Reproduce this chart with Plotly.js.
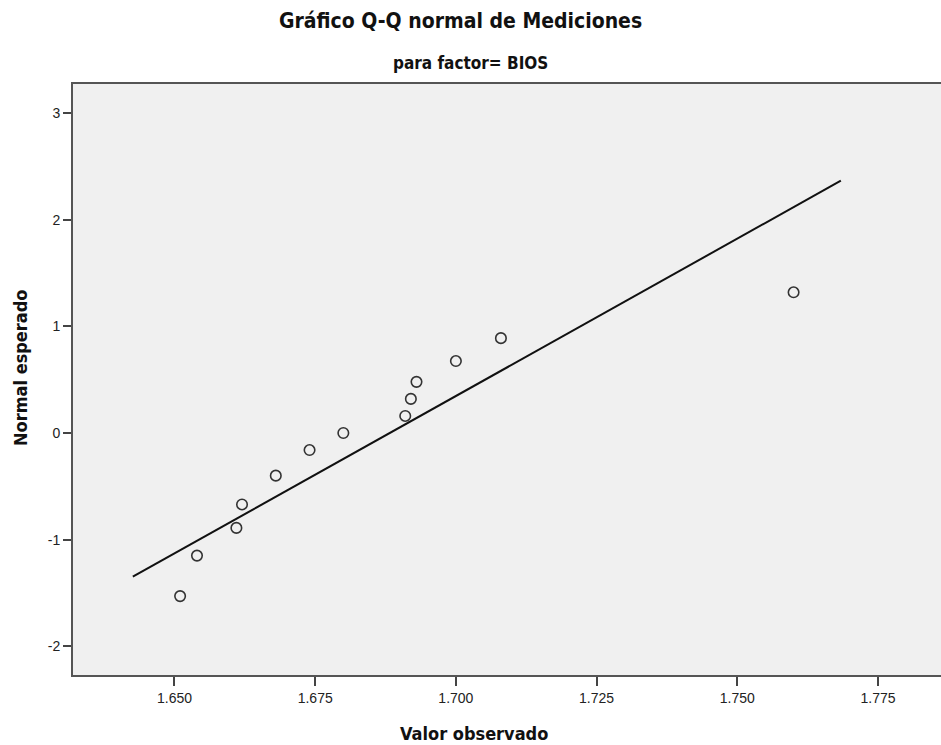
<!DOCTYPE html>
<html>
<head>
<meta charset="utf-8">
<script src="https://cdn.plot.ly/plotly-3.0.1.min.js"></script>
<style>html,body{margin:0;padding:0;background:#fff;}#chart{width:941px;height:745px;}</style>
</head>
<body>
<div id="chart"></div>
<script>
// Observed values (Valor observado)
const observed = [1.651, 1.654, 1.661, 1.662, 1.668, 1.674, 1.680, 1.691, 1.692, 1.693, 1.700, 1.708, 1.760];
// Expected normal values (Normal esperado)
const expected = [-1.53, -1.15, -0.89, -0.67, -0.40, -0.16, 0.00, 0.16, 0.32, 0.48, 0.675, 0.89, 1.32];
// Reference line endpoints
const lineX = [1.6426, 1.7684];
const lineY = [-1.348, 2.367];
const xTicks = [1.650, 1.675, 1.700, 1.725, 1.750, 1.775];
const xTickLabels = ["1.650", "1.675", "1.700", "1.725", "1.750", "1.775"];
const yTicks = [-2, -1, 0, 1, 2, 3];
const yTickLabels = ["-2", "-1", "0", "1", "2", "3"];

const narrow = '"DejaVu Sans Condensed", "Liberation Sans Narrow", sans-serif';
const sans = '"Liberation Sans", Arial, sans-serif';

const traces = [
  {
    x: lineX, y: lineY, type: 'scatter', mode: 'lines',
    line: {color: '#111', width: 2}, hoverinfo: 'skip', showlegend: false
  },
  {
    x: observed, y: expected, type: 'scatter', mode: 'markers',
    marker: {symbol: 'circle-open', size: 10.5, color: '#333', line: {width: 1.6, color: '#333'}},
    showlegend: false
  }
];

const W = 868, H = 591; // plot area size in px
const layout = {
  width: 941, height: 745,
  margin: {l: 73, r: 0, t: 84, b: 70},
  paper_bgcolor: '#ffffff',
  plot_bgcolor: '#f0f0f0',
  showlegend: false,
  xaxis: {
    range: [1.63197, 1.78619],
    tickvals: xTicks, ticktext: xTickLabels,
    showgrid: false, zeroline: false,
    showline: true, linecolor: '#555', linewidth: 2, mirror: true,
    ticks: 'outside', ticklen: 9, tickwidth: 2, tickcolor: '#444',
    tickfont: {family: sans, size: 14, color: '#222'}
  },
  yaxis: {
    range: [-2.270, 3.274],
    tickvals: yTicks, ticktext: yTickLabels,
    showgrid: false, zeroline: false,
    showline: true, linecolor: '#555', linewidth: 2,
    ticks: 'outside', ticklen: 8, tickwidth: 2, tickcolor: '#444',
    tickfont: {family: sans, size: 14, color: '#222'}
  },
  annotations: [
    {text: '<b>Gráfico Q-Q normal de Mediciones</b>', xref: 'paper', yref: 'paper',
     x: (460 - 73) / W, y: 1, yshift: 63, xanchor: 'center', yanchor: 'middle', showarrow: false,
     font: {family: narrow, size: 21, color: '#111'}},
    {text: '<b>para factor= BIOS</b>', xref: 'paper', yref: 'paper',
     x: (470 - 73) / W, y: 1, yshift: 21, xanchor: 'center', yanchor: 'middle', showarrow: false,
     font: {family: narrow, size: 17, color: '#111'}},
    {text: '<b>Valor observado</b>', xref: 'paper', yref: 'paper',
     x: (474 - 73) / W, y: 0, yshift: -58, xanchor: 'center', yanchor: 'middle', showarrow: false,
     font: {family: narrow, size: 18, color: '#111'}},
    {text: '<b>Normal esperado</b>', xref: 'paper', yref: 'paper',
     x: 0, xshift: -53, y: (675 - 368) / H, xanchor: 'center', yanchor: 'middle', showarrow: false,
     textangle: -90,
     font: {family: narrow, size: 18, color: '#111'}}
  ]
};

Plotly.newPlot('chart', traces, layout, {displayModeBar: false, staticPlot: true});
</script>
</body>
</html>
